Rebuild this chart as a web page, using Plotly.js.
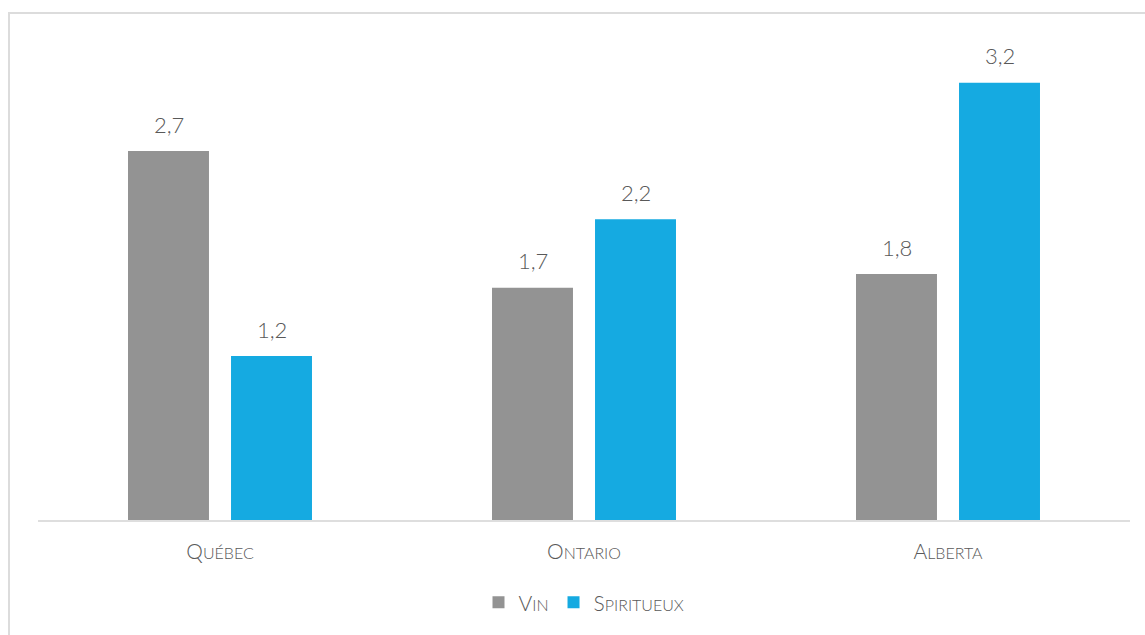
<!DOCTYPE html>
<html>
<head>
<meta charset="utf-8">
<script src="https://cdn.plot.ly/plotly-3.0.1.min.js"></script>
<style>
  html, body { margin: 0; padding: 0; background: #fff; overflow: hidden; }
  #frame { position: absolute; left: 8px; top: 12px; width: 1200px; height: 700px; border: 2px solid #dcdcdc; box-sizing: border-box; }
  #chart { position: absolute; left: 0; top: 0; width: 1145px; height: 635px; }
</style>
</head>
<body>
<div id="frame"></div>
<div id="chart"></div>
<script>
const categories = ["Québec", "Ontario", "Alberta"];
const seriesNames = ["Vin", "Spiritueux"];
const vinValues = [2.7, 1.7, 1.8];
const spiritueuxValues = [1.2, 2.2, 3.2];
const seriesColors = ["#939393", "#15aae1"];

function smallCaps(s, small) {
  return s.charAt(0).toUpperCase() +
    '<span style="font-size:' + small + 'px">' + s.slice(1).toUpperCase() + '</span>';
}
function fmt(v) { return v.toFixed(1).replace('.', ','); }

const FONT = 'Lato, "Open Sans", sans-serif';
const TEXTC = '#595959';

const traces = [
  { type: 'bar', name: smallCaps(seriesNames[0], 16), x: categories, y: vinValues,
    marker: { color: seriesColors[0] }, hoverinfo: 'skip' },
  { type: 'bar', name: smallCaps(seriesNames[1], 16), x: categories, y: spiritueuxValues,
    marker: { color: seriesColors[1] }, hoverinfo: 'skip' }
];

const annotations = [];
[vinValues, spiritueuxValues].forEach((vals, si) => {
  vals.forEach((v, i) => {
    annotations.push({
      x: categories[i], y: v, xref: 'x', yref: 'y',
      text: fmt(v), showarrow: false,
      xshift: si === 0 ? -51.5 : 51.5, yshift: 27, yanchor: 'middle',
      font: { family: FONT, size: 22, color: TEXTC, weight: 300 }
    });
  });
});

const layout = {
  width: 1145, height: 635,
  margin: { l: 38, r: 15, t: 28, b: 113 },
  paper_bgcolor: 'rgba(0,0,0,0)', plot_bgcolor: 'rgba(0,0,0,0)',
  barmode: 'group', bargap: 0.434, bargroupgap: 0.214,
  font: { family: FONT, color: TEXTC },
  xaxis: {
    tickvals: categories,
    ticktext: categories.map(c => smallCaps(c, 16)),
    tickfont: { family: FONT, size: 21, color: TEXTC, weight: 300 },
    ticklabelstandoff: 12,
    showline: true, linecolor: '#dedede', linewidth: 2,
    ticks: '', ticklen: 0, showgrid: false, zeroline: false
  },
  yaxis: {
    range: [0, 3.6], visible: false, showgrid: false, zeroline: false
  },
  showlegend: true,
  legend: {
    orientation: 'h', x: 0.5, xanchor: 'center', y: -0.168, yanchor: 'middle',
    font: { family: FONT, size: 21, color: TEXTC, weight: 300 },
    itemclick: false, traceorder: 'normal', itemwidth: 30
  },
  annotations: annotations
};

Plotly.newPlot('chart', traces, layout, { staticPlot: true, displayModeBar: false });
</script>
</body>
</html>
